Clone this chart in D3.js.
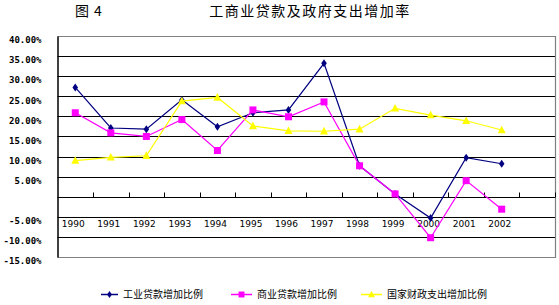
<!DOCTYPE html>
<html>
<head>
<meta charset="utf-8">
<script src="https://cdn.jsdelivr.net/npm/d3@7"></script>
<style>
  body { margin: 0; background: #fff; }
  svg { display: block; }
  .num { font-family: "DejaVu Sans Mono", monospace; font-size: 9px; font-weight: bold; fill: #000; }
  .yr { font-family: "DejaVu Sans", sans-serif; font-size: 9px; fill: #000; }
  .cjk { font-family: "Noto Sans CJK SC", sans-serif; fill: #000; }
</style>
</head>
<body>
<svg id="chart" width="559" height="305"></svg>
<script>
// ---- data ----
const years = ['1990', '1991', '1992', '1993', '1994', '1995', '1996', '1997', '1998', '1999', '2000', '2001', '2002'];
const industryLoan = [27.2, 17.1, 16.8, 24.1, 17.4, 20.9, 21.6, 33.2, 7.7, 0.7, -5.3, 9.7, 8.2];
const commerceLoan = [20.9, 15.9, 15.0, 19.2, 11.5, 21.6, 19.9, 23.6, 7.7, 0.7, -10.2, 4.0, -3.1];
const fiscalSpend = [9.0, 9.8, 10.2, 23.8, 24.7, 17.6, 16.4, 16.3, 16.8, 22.0, 20.3, 18.9, 16.6];
const yTicks = [40, 35, 30, 25, 20, 15, 10, 5, -5, -10, -15];
const seriesNames = ['工业贷款增加比例', '商业贷款增加比例', '国家财政支出增加比例'];

const series = [
  { name: seriesNames[0], values: industryLoan, color: '#000080', marker: 'diamond' },
  { name: seriesNames[1], values: commerceLoan, color: '#ff00ff', marker: 'square' },
  { name: seriesNames[2], values: fiscalSpend, color: '#ffff00', marker: 'triangle' },
];

// ---- layout ----
const svg = d3.select('#chart');
const plotL = 57.5, plotR = 555, plotT = 36, plotB = 257;

// 14 slots, the last one empty (as in the original)
const x = d3.scaleBand().domain(years.concat([''])).range([plotL, plotR]);
const y = d3.scaleLinear().domain([-15, 40]).range([plotB, plotT]);

// title
svg.append('text').attr('class', 'cjk').attr('x', 75).attr('y', 16)
  .style('font-size', '14px').text('图');
svg.append('text').attr('class', 'cjk').attr('x', 94).attr('y', 16)
  .style('font-size', '14px').text('4');
svg.append('text').attr('class', 'cjk').attr('x', 310).attr('y', 16)
  .attr('text-anchor', 'middle').style('font-size', '14px').style('letter-spacing', '1.5px')
  .text('工商业贷款及政府支出增加率');

// grid lines
svg.append('g').selectAll('line')
  .data(d3.range(-10, 40, 5))
  .enter().append('line')
  .attr('x1', plotL).attr('x2', plotR)
  .attr('y1', d => Math.round(y(d)) + 0.5).attr('y2', d => Math.round(y(d)) + 0.5)
  .attr('stroke', '#000').attr('stroke-width', 1.2);

// plot border (top, right, bottom grey)
svg.append('path')
  .attr('d', `M${plotL},${Math.round(plotT) + 0.5}H${plotR + 0.5}V${Math.round(plotB) + 0.5}H${plotL}`)
  .attr('fill', 'none').attr('stroke', '#808080').attr('stroke-width', 1.2);

// y axis
const yAxis = d3.axisLeft(y).tickValues(yTicks).tickSize(0).tickPadding(16)
  .tickFormat(d => d.toFixed(2) + '%');
const gy = svg.append('g').attr('transform', `translate(${plotL},0)`).call(yAxis);
gy.attr('font-family', null).attr('font-size', null);
gy.select('.domain').attr('stroke', '#000').attr('stroke-width', 1.5);
gy.selectAll('text').attr('class', 'num').attr('dy', '0.75em');

// x axis at zero with upward ticks at band boundaries
const zeroY = Math.round(y(0)) + 0.5;
const bounds = x.domain().map(d => x(d)).concat([plotR]).slice(1);
svg.append('g').selectAll('line')
  .data(bounds)
  .enter().append('line')
  .attr('x1', d => Math.round(d) + 0.5).attr('x2', d => Math.round(d) + 0.5)
  .attr('y1', zeroY).attr('y2', zeroY - 5)
  .attr('stroke', '#000');

svg.append('g').selectAll('text')
  .data(years)
  .enter().append('text')
  .attr('class', 'yr')
  .attr('x', d => x(d) + x.bandwidth() / 2 - 2)
  .attr('y', zeroY + 29)
  .attr('text-anchor', 'middle')
  .text(d => d);

// markers
function markerPath(type, s) {
  if (type === 'diamond') return `M0,${-s}L${s * 0.7},0L0,${s}L${-s * 0.7},0Z`;
  if (type === 'square') return `M${-s},${-s}H${s}V${s}H${-s}Z`;
  return `M0,${-s * 1.1}L${s},${s * 0.8}H${-s}Z`;
}
const markerSize = { diamond: 4, square: 3.5, triangle: 4 };

const line = d3.line()
  .x((d, i) => x(years[i]) + x.bandwidth() / 2)
  .y(d => y(d));

series.forEach(s => {
  const g = svg.append('g');
  g.append('path')
    .datum(s.values)
    .attr('d', line)
    .attr('fill', 'none')
    .attr('stroke', s.color)
    .attr('stroke-width', 1.2);
  g.selectAll('path.mk')
    .data(s.values)
    .enter().append('path')
    .attr('class', 'mk')
    .attr('transform', (d, i) => `translate(${x(years[i]) + x.bandwidth() / 2},${y(d)})`)
    .attr('d', markerPath(s.marker, markerSize[s.marker]))
    .attr('fill', s.color);
});

// legend
const legendX = [101, 231, 361];
const legendLineW = [17, 21, 21];
const legendY = 294;
series.forEach((s, i) => {
  const g = svg.append('g').attr('transform', `translate(${legendX[i]},${legendY})`);
  g.append('line').attr('x1', 0).attr('x2', legendLineW[i]).attr('y1', 0.5).attr('y2', 0.5)
    .attr('stroke', s.color).attr('stroke-width', 1.5);
  g.append('path').attr('transform', `translate(${legendLineW[i] / 2},0.5)`)
    .attr('d', markerPath(s.marker, markerSize[s.marker] * 0.85)).attr('fill', s.color);
  g.append('text').attr('class', 'cjk').attr('x', legendLineW[i] + 5).attr('y', 4)
    .style('font-size', '10px').text(s.name);
});
</script>
</body>
</html>
